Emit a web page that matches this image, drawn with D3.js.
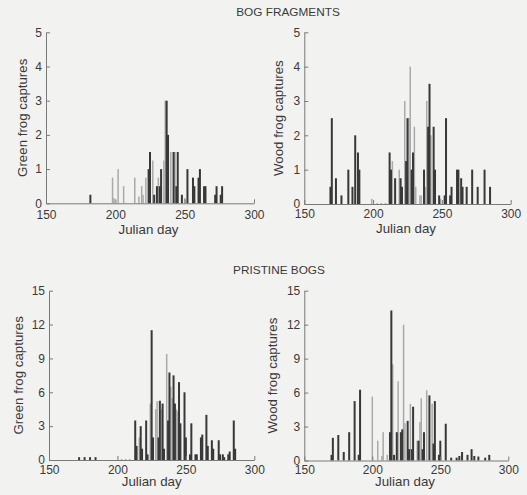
<!DOCTYPE html>
<html>
<head>
<meta charset="utf-8">
<script src="https://cdn.jsdelivr.net/npm/d3@7"></script>
<style>
  html, body { margin: 0; padding: 0; background: #f2f2f0; }
  svg { display: block; }
  text { font-family: "Liberation Sans", Arial, Helvetica, sans-serif; fill: #3a3a3a; }
</style>
</head>
<body>
<svg id="chart" width="527" height="495"></svg>
<script>
// ---------- data ----------
const sectionTitles = ["BOG FRAGMENTS", "PRISTINE BOGS"];
const xLabel = "Julian day";
const yLabels = ["Green frog captures", "Wood frog captures", "Green frog captures", "Wood frog captures"];
const xTicks = [150, 200, 250, 300];
const yTicksFragments = [0, 1, 2, 3, 4, 5];
const yTicksPristine = [0, 3, 6, 9, 12, 15];

// Green frog, bog fragments: [Julian day, captures]
const greenFragDark = [[182,0.25],[224,1],[225,1.5],[228,0.25],[230,0.5],[232,0.5],[233,1],[237,3],[238,2],[242,1.5],[244,0.5],[245,1.5],[248,0.25],[252,1],[256,0.75],[257,0.5],[260,0.75],[261,1],[264,0.5],[265,0.5],[272,0.25],[273,0.5],[276,0.25],[277,0.5]];
const greenFragLight = [[198,0.75],[199,0.15],[202,1],[206,0.5],[214,0.75],[217,0.2],[219,0.5],[220,0.25],[222,0.75],[227,1.25],[231,0.75],[235,1.25],[236,3],[240,1.5],[243,1.5],[250,0.15]];

// Wood frog, bog fragments
const woodFragDark = [[169,0.5],[170,2.5],[173,0.75],[177,0.25],[182,1],[185,0.5],[187,2],[189,1.5],[190,1],[212,1.5],[213,1],[216,0.75],[220,0.75],[221,0.5],[224,1.25],[225,2.5],[228,1],[229,1.5],[237,1],[240,2.25],[241,3.5],[244,2.25],[245,1],[248,0.25],[252,0.25],[253,2.5],[256,0.25],[257,0.5],[261,1],[262,1],[264,0.75],[265,0.5],[268,0.5],[272,1],[276,0.5],[281,1],[285,0.5]];
const woodFragLight = [[199,0.15],[203,0.03],[206,0.03],[209,0.03],[214,1.25],[219,1],[223,3],[226,2.5],[227,4],[230,2.25],[231,0.5],[234,0.25],[235,0.25],[238,0.5],[239,3],[242,2],[249,0.15]];

// Green frog, pristine bogs
const greenPrisDark = [[172,0.25],[176,0.25],[180,0.25],[184,0.25],[213,3.5],[214,1.25],[217,3],[218,1],[221,3.5],[222,0.5],[225,11.5],[226,2],[230,2],[231,5.25],[233,5],[234,1],[237,3.5],[238,7.75],[241,7.5],[242,5],[245,6.9],[246,3.25],[249,6],[250,2],[253,0.5],[254,3.25],[257,0.5],[258,0.5],[261,2],[262,2.25],[265,4],[266,1.25],[269,1.75],[270,1],[274,1.75],[275,0.5],[277,0.5],[278,0.25],[281,0.5],[282,0.75],[285,3.5],[286,1]];
const greenPrisLight = [[203,0.1],[206,0.1],[209,0.1],[216,2],[224,5],[228,4.5],[229,5.2],[232,4.5],[236,9.4],[239,6.5],[240,5.5],[243,4.5],[244,4.3]];

// Wood frog, pristine bogs
const woodPrisDark = [[170,0.5],[171,2],[175,2.25],[179,0.75],[183,2.5],[187,5.25],[190,0.5],[191,6.25],[213,2.5],[214,13.25],[216,0.5],[218,2.5],[221,2.5],[222,2.75],[226,3.5],[227,1],[229,1],[230,4.75],[234,1.75],[237,1],[238,2.5],[242,5.75],[245,1.5],[246,5.25],[249,0.5],[250,1.75],[254,3.25],[258,0.25],[262,0.25],[264,0.4],[266,0.75],[270,0.5],[273,1],[275,0.4],[278,0.35],[283,0.25],[286,0.5]];
const woodPrisLight = [[200,5.65],[204,1.75],[207,0.4],[208,2.5],[211,0.5],[215,8.5],[219,7],[223,12],[224,3.3],[228,5],[233,1.75],[235,3.4],[236,5.5],[240,6.2],[244,5]];

// ---------- layout ----------
const panels = [
  { dark: greenFragDark, light: greenFragLight, yMax: 5,  yTicks: yTicksFragments, label: yLabels[0],
    x0: 46,    x1: 254,   y0: 203.3, y1: 32.3,  tickPad: 7.4, xlabY: 234, ylabX: 22.5, xlabX: 148.5 },
  { dark: woodFragDark,  light: woodFragLight,  yMax: 5,  yTicks: yTicksFragments, label: yLabels[1],
    x0: 304.3, x1: 510.7, y0: 204,   y1: 32.3,  tickPad: 5.3, xlabY: 233, ylabX: 278.5, xlabX: 406 },
  { dark: greenPrisDark, light: greenPrisLight, yMax: 15, yTicks: yTicksPristine,  label: yLabels[2],
    x0: 49,    x1: 254.3, y0: 460,   y1: 290.7, tickPad: 5,   xlabY: 486, ylabX: 18.5, xlabX: 151.7 },
  { dark: woodPrisDark,  light: woodPrisLight,  yMax: 15, yTicks: yTicksPristine,  label: yLabels[3],
    x0: 304.3, x1: 508.3, y0: 460.5, y1: 290.7, tickPad: 5,   xlabY: 486, ylabX: 272, xlabX: 405 }
];

const svg = d3.select("#chart");
const axisColor = "#7a7a7a";
const darkColor = "#383838";
const lightColor = "#aaaaaa";

svg.append("text").attr("x", 288).attr("y", 16).attr("text-anchor", "middle")
  .style("font-size", "11.8px").text(sectionTitles[0]);
svg.append("text").attr("x", 279).attr("y", 273.5).attr("text-anchor", "middle")
  .style("font-size", "11.8px").text(sectionTitles[1]);

panels.forEach(p => {
  const x = d3.scaleLinear().domain([150, 300]).range([p.x0, p.x1]);
  const y = d3.scaleLinear().domain([0, p.yMax]).range([p.y0, p.y1]);
  const g = svg.append("g");

  // bars: light series behind, dark series in front
  g.selectAll("rect.light").data(p.light).join("rect").attr("class", "light")
    .attr("x", d => x(d[0]) - 0.75).attr("width", 1.5)
    .attr("y", d => y(d[1])).attr("height", d => y(0) - y(d[1]))
    .attr("fill", lightColor);
  g.selectAll("rect.dark").data(p.dark).join("rect").attr("class", "dark")
    .attr("x", d => x(d[0]) - 1).attr("width", 2)
    .attr("y", d => y(d[1])).attr("height", d => y(0) - y(d[1]))
    .attr("fill", darkColor);

  // x axis
  const xa = g.append("g").attr("transform", `translate(0,${p.y0})`)
    .call(d3.axisBottom(x).tickValues(xTicks).tickFormat(d3.format("d"))
      .tickSizeInner(-4).tickSizeOuter(0).tickPadding(p.tickPad));
  xa.select(".domain").attr("stroke", axisColor);
  xa.selectAll(".tick line").attr("stroke", axisColor);
  xa.selectAll("text").style("font-size", "12px").attr("fill", "#3a3a3a");

  // y axis
  const ya = g.append("g").attr("transform", `translate(${p.x0},0)`)
    .call(d3.axisLeft(y).tickValues(p.yTicks).tickFormat(d3.format("d"))
      .tickSizeInner(-4).tickSizeOuter(0).tickPadding(4));
  ya.select(".domain").attr("stroke", axisColor);
  ya.selectAll(".tick line").attr("stroke", axisColor);
  ya.selectAll("text").style("font-size", "12px").attr("fill", "#3a3a3a");

  // labels
  g.append("text").attr("x", p.xlabX).attr("y", p.xlabY).attr("text-anchor", "middle")
    .style("font-size", "13.3px").text(xLabel);
  g.append("text")
    .attr("transform", `translate(${p.ylabX},${(p.y0 + p.y1) / 2}) rotate(-90)`)
    .attr("text-anchor", "middle").attr("dy", "0.35em")
    .style("font-size", "13.3px").text(p.label);
});
</script>
</body>
</html>
